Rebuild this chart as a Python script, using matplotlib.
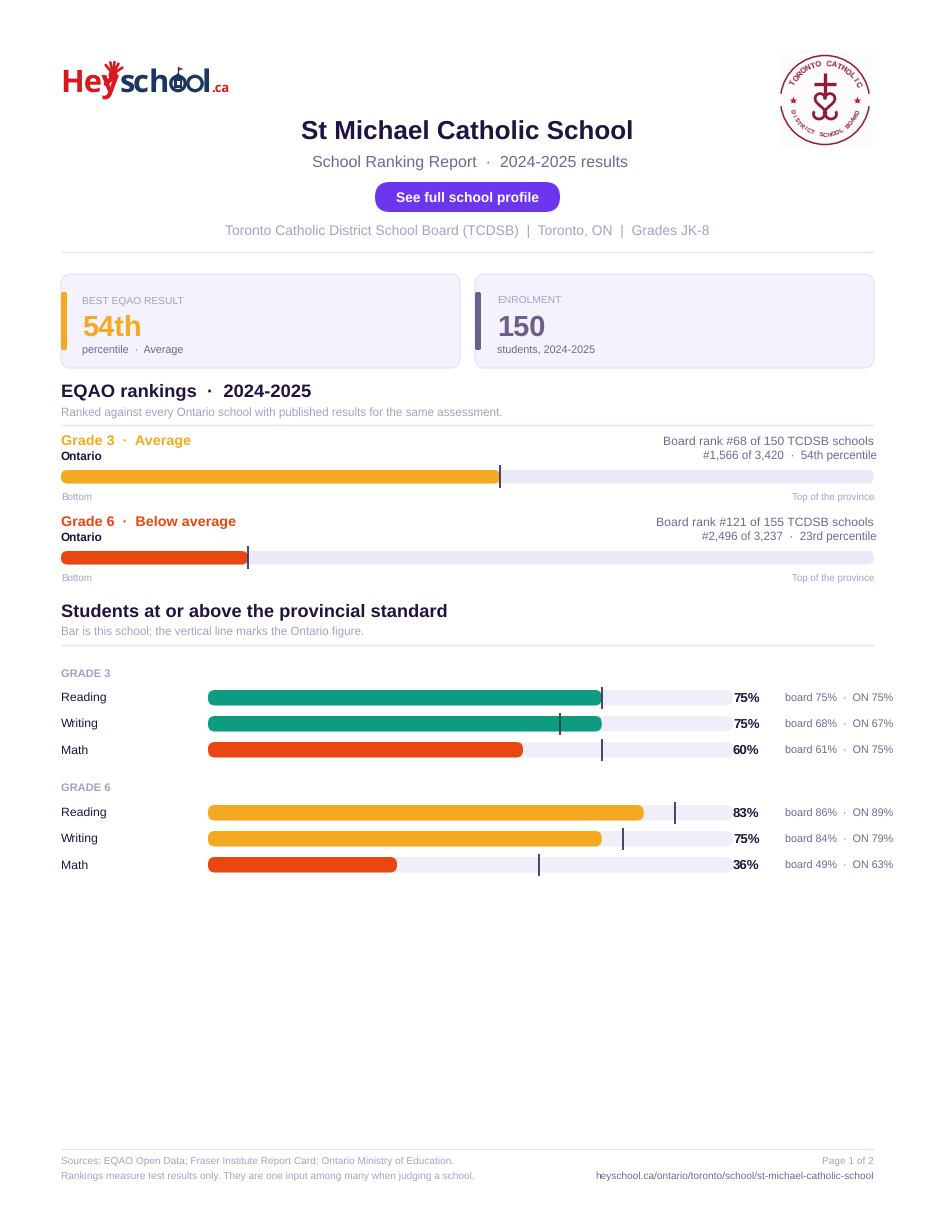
import numpy as np
import matplotlib
matplotlib.use("Agg")
import matplotlib.pyplot as plt
from matplotlib.patches import FancyBboxPatch, Rectangle, Arc, Circle, Polygon

# ---------- data ----------
rank_grades = ["Grade 3  ·  Average", "Grade 6  ·  Below average"]
rank_percentiles = [54, 23]
rank_board = ["Board rank #68 of 150 TCDSB schools", "Board rank #121 of 155 TCDSB schools"]
rank_prov = ["#1,566 of 3,420  ·  54th percentile", "#2,496 of 3,237  ·  23rd percentile"]
rank_levels = ["mid", "low"]

subjects = ["Reading", "Writing", "Math"]
g3_school = [75, 75, 60]
g3_board = [75, 68, 61]
g3_ontario = [75, 67, 75]
g3_levels = ["high", "high", "low"]
g6_school = [83, 75, 36]
g6_board = [86, 84, 49]
g6_ontario = [89, 79, 63]
g6_levels = ["mid", "mid", "low"]

# ---------- style ----------
plt.rcParams["font.family"] = ["Liberation Sans", "DejaVu Sans"]
plt.rcParams["text.hinting"] = "no_hinting"
plt.rcParams["text.hinting_factor"] = 8
W, H = 935, 1210
DARK = "#1F1440"; MID = "#6F6892"; MUTED = "#A6A1C2"; RULE = "#E4E1F2"
TRACK = "#F0EEF8"; CARD = "#F4F2FD"; CARDE = "#E8E5F7"; MARK = "#3D3263"
COL = {"high": "#0F9B7F", "mid": "#F4A91F", "low": "#E8470F"}
NAVY = "#1C3660"; LOGORED = "#D8171F"; CREST = "#8E1B3A"

fig = plt.figure(figsize=(W / 100, H / 100), dpi=100, facecolor="white")
pg = fig.add_axes([0, 0, 1, 1]); pg.set_xlim(0, W); pg.set_ylim(H, 0); pg.axis("off")


def T(x, y, s, px, color=DARK, weight="normal", ha="left", **kw):
    return pg.text(x, y, s, fontsize=px * 0.72, color=color, weight=weight, ha=ha, va="baseline", **kw)


def hr(y, x0=61, x1=874):
    pg.plot([x0, x1], [y, y], color=RULE, lw=0.9, solid_capstyle="butt")


def rbox(x0, y0, x1, y1, r, fc, ec="none", lw=0, ax=pg, z=1):
    ax.add_patch(FancyBboxPatch((x0, y0), x1 - x0, y1 - y0, boxstyle=f"round,pad=0,rounding_size={r}",
                                fc=fc, ec=ec, lw=lw, zorder=z))


def bar_axes(x0, x1, y0, y1):
    ax = fig.add_axes([x0 / W, 1 - y1 / H, (x1 - x0) / W, (y1 - y0) / H])
    ax.set_xlim(0, 100); ax.set_ylim(y1, y0); ax.axis("off"); ax.patch.set_alpha(0)
    return ax


def hbar(ax, value, top, h, r, color, z=2):
    ppu = (ax.get_position().width * W) / 100
    ax.add_patch(FancyBboxPatch((0, top), value, h, boxstyle=f"round,pad=0,rounding_size={r / ppu}",
                                mutation_aspect=ppu, fc=color, ec="none", zorder=z))


# ---------- logo ----------
T(60.5, 92, "Hey", 31, LOGORED, "bold", family="Open Sans")
T(120, 92, "s", 31, NAVY, "bold", family="Open Sans")
T(133, 92, "c", 31, NAVY, "bold", family="Open Sans")
T(148.5, 92, "h", 31, NAVY, "bold", family="Open Sans")
T(201.5, 92, "l", 31, NAVY, "bold", family="Open Sans")
T(211, 92, ".ca", 13, LOGORED, "bold", family="Open Sans")
for cx in (178, 195):
    pg.add_patch(Circle((cx, 83.5), 7.2, fc="white" if cx < 190 else "none", ec=NAVY, lw=2.4, zorder=2))
pg.add_patch(Polygon([[178, 73], [185.5, 80], [170.5, 80]], fc=NAVY, ec="none", zorder=3))
pg.add_patch(Rectangle((174, 79), 8, 9, fc=NAVY, ec="none", zorder=3))
pg.add_patch(Rectangle((176.5, 81), 3, 4, fc="white", ec="none", zorder=4))
pg.plot([178, 178], [67, 74], color=NAVY, lw=0.9)
pg.add_patch(Polygon([[178, 67], [178, 71], [183.5, 69]], fc=LOGORED, ec="none"))
for a in (-50, -22, 0, 22, 50):
    t = np.radians(a + 8)
    pg.plot([113, 113 + 11 * np.sin(t)], [74, 74 - 12 * np.cos(t)], color=LOGORED, lw=1.9, solid_capstyle="round")
pg.add_patch(Circle((113, 75), 4.5, fc=LOGORED, ec="none"))
pg.plot([112, 106], [78, 84], color=LOGORED, lw=3.2, solid_capstyle="round")

# ---------- crest ----------
pg.add_patch(Rectangle((778, 50), 95, 98, fc="#FDFBFC", ec="none"))
cc = (825, 100)
pg.add_patch(Arc(cc, 89, 89, theta1=-172, theta2=-8, ec=CREST, lw=1.1))
pg.add_patch(Arc(cc, 89, 89, theta1=8, theta2=172, ec=CREST, lw=1.1))


def curved(s, r, a0, a1, size, flip=False):
    for ch, a in zip(s, np.linspace(a0, a1, len(s))):
        t = np.radians(a)
        x, y = cc[0] + r * np.cos(t), cc[1] + r * np.sin(t)
        rot = (-a - 90) if not flip else (90 - a)
        pg.text(x, y, ch, fontsize=size, weight="bold", color=CREST, ha="center", va="center", rotation=rot)


curved("TORONTO CATHOLIC", 36, -151, -26, 5.6)
curved("DISTRICT SCHOOL BOARD", 35, 160, 20, 4.4, flip=True)
pg.plot([825, 825], [73, 96], color=CREST, lw=2.4, solid_capstyle="butt")
pg.plot([814, 836], [83.5, 83.5], color=CREST, lw=2.4, solid_capstyle="butt")
th = np.linspace(0, 2 * np.pi, 80)
pg.plot(825 + 0.62 * 16 * np.sin(th) ** 3,
        101 - 0.62 * (13 * np.cos(th) - 5 * np.cos(2 * th) - 2 * np.cos(3 * th) - np.cos(4 * th)),
        color=CREST, lw=2)
for sx in (819, 831):
    pg.add_patch(Arc((sx, 114), 11, 10, theta1=-30, theta2=210, ec=CREST, lw=2))
for lx in (793, 857):
    pg.plot([lx], [100], marker="*", ms=6, color="#B01F2E", mec="none")

# ---------- header ----------
T(467.5, 140, "St Michael Catholic School", 26, DARK, "bold", ha="center")
T(469.5, 167, "School Ranking Report  ·  2024-2025 results", 16, MID, ha="center")
rbox(375, 182, 560, 212, 15, "#6C35EE")
T(467.5, 202, "See full school profile", 13.8, "white", "bold", ha="center")
T(467.5, 235, "Toronto Catholic District School Board (TCDSB)  |  Toronto, ON  |  Grades JK-8", 13.9, MUTED, ha="center")
hr(252)

# ---------- cards ----------
rbox(61, 274, 460, 368, 10, CARD, CARDE, 1.0)
rbox(475, 274, 874, 368, 10, CARD, CARDE, 1.0)
rbox(61, 292, 67, 350, 2, COL["mid"], z=2)
rbox(475, 292, 481, 350, 2, "#6B5F8E", z=2)
T(82.5, 304, "BEST EQAO RESULT", 10.2, MUTED)
T(82.5, 336, f"{rank_percentiles[0]}th", 29, COL["mid"], "bold")
T(82.5, 354, "percentile  ·  Average", 10.7, MID)
T(497, 304, "ENROLMENT", 10.2, MUTED)
T(497, 336, "150", 29, "#6B5F8E", "bold")
T(497, 354, "students, 2024-2025", 10.7, MID)

# ---------- rankings ----------
T(61, 396, "EQAO rankings  ·  2024-2025", 18.35, DARK, "bold")
T(61, 417, "Ranked against every Ontario school with published results for the same assessment.", 11.62, MUTED)
hr(425)
rank_tops = [470, 551]
for i, top in enumerate(rank_tops):
    c = COL[rank_levels[i]]
    T(61, top - 25, rank_grades[i], 14.45, c, "bold")
    T(61, top - 10, "Ontario", 11.8, DARK, "bold")
    T(874, top - 25, rank_board[i], 12.2, MID, ha="right")
    T(877, top - 10, rank_prov[i], 11.6, MID, ha="right")
    ax = bar_axes(61, 874, top - 6, top + 19)
    hbar(ax, 100, top, 13.5, 6.5, "#ECE9F7", z=1)
    hbar(ax, rank_percentiles[i], top, 13.5, 6.5, c)
    ax.vlines(rank_percentiles[i], top - 5, top + 18, color=MARK, lw=1.3, zorder=3)
    T(61, top + 30, "Bottom", 9.8, MUTED)
    T(874, top + 30, "Top of the province", 9.8, MUTED, ha="right")

# ---------- standards ----------
T(61, 616, "Students at or above the provincial standard", 18.3, DARK, "bold")
T(61, 636, "Bar is this school; the vertical line marks the Ontario figure.", 11.62, MUTED)
hr(645)
groups = [("GRADE 3", 677, 690, g3_school, g3_board, g3_ontario, g3_levels),
          ("GRADE 6", 791, 805, g6_school, g6_board, g6_ontario, g6_levels)]
for label, ly, top0, school, board, ont, lev in groups:
    T(61, ly, label, 11.1, MUTED, "bold")
    ax = bar_axes(208, 733, top0 - 5, top0 + 75)
    for j, name in enumerate(subjects):
        top = top0 + j * 26
        hbar(ax, 100, top, 15.5, 7, TRACK, z=1)
        hbar(ax, school[j], top, 15.5, 7, COL[lev[j]])
        ax.vlines(ont[j], top - 3, top + 19, color=MARK, lw=1.3, zorder=3)
        T(61, top + 12, name, 12.2, DARK)
        T(733, top + 12, f"{school[j]}%", 13.3, DARK, "bold")
        T(785, top + 12, f"board {board[j]}%  ·  ON {ont[j]}%", 10.7, MID)

# ---------- footer ----------
hr(1149)
T(61, 1164, "Sources: EQAO Open Data; Fraser Institute Report Card; Ontario Ministry of Education.", 10.1, MUTED)
T(61, 1179, "Rankings measure test results only. They are one input among many when judging a school.", 10.1, MUTED)
T(874, 1164, "Page 1 of 2", 10.1, MUTED, ha="right")
T(874, 1179, "heyschool.ca/ontario/toronto/school/st-michael-catholic-school", 10.1, MID, ha="right")

fig.savefig("out.png", dpi=100, facecolor="white")
